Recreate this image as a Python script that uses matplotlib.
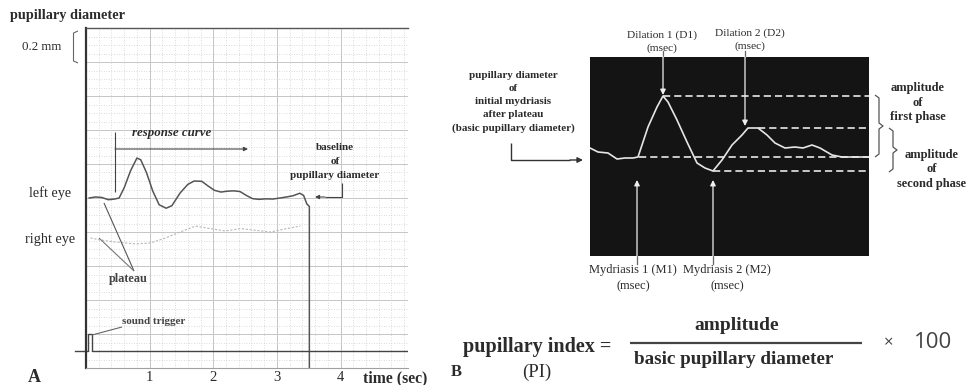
import matplotlib
matplotlib.use("Agg")
import matplotlib.pyplot as plt
from matplotlib.ticker import MultipleLocator
import numpy as np

plt.rcParams.update({"font.family": ["Liberation Serif", "DejaVu Serif"],
                     "savefig.facecolor": "white"})

W, H = 973, 385
INK = "#2b2b2b"

# ---- panel A data: time (s), pupil diameter (mm) ----
LEFT_T = [0.05, 0.15, 0.25, 0.35, 0.45, 0.52, 0.60, 0.70, 0.80, 0.86, 0.95,
          1.05, 1.15, 1.26, 1.35, 1.48, 1.60, 1.70, 1.82, 1.92, 2.02, 2.12,
          2.22, 2.32, 2.42, 2.52, 2.62, 2.72, 2.82, 2.94, 3.05, 3.15, 3.25,
          3.36, 3.42, 3.47, 3.51, 3.51]
LEFT_MM = [1.000, 1.006, 1.003, 0.990, 0.994, 1.000, 1.060, 1.160, 1.235,
           1.225, 1.150, 1.040, 0.960, 0.940, 0.955, 1.030, 1.080, 1.100,
           1.098, 1.070, 1.045, 1.035, 1.040, 1.042, 1.038, 1.015, 0.996,
           0.992, 0.995, 0.994, 1.000, 1.006, 1.013, 1.028, 1.015, 0.965,
           0.950, 0.0]
RIGHT_T = [0.07, 0.23, 0.46, 0.78, 1.01, 1.25, 1.48, 1.72, 1.95, 2.19, 2.43,
           2.66, 2.90, 3.13, 3.37]
RIGHT_MM = [0.765, 0.753, 0.741, 0.730, 0.735, 0.765, 0.800, 0.835, 0.820,
            0.806, 0.820, 0.810, 0.800, 0.818, 0.835]
TRIG_T = [0.0, 0.03, 0.03, 0.09, 0.09, 5.06]
TRIG_MM = [0.10, 0.10, 0.20, 0.20, 0.10, 0.10]
TIME_TICKS = [1, 2, 3, 4]

# ---- panel B data: time (ms), diameter (a.u.) ----
B_T = [0, 80, 180, 270, 350, 430, 480, 580, 670, 730, 780, 870, 970, 1070,
       1150, 1230, 1320, 1420, 1520, 1580, 1680, 1770, 1850, 1950, 2050,
       2130, 2220, 2300, 2420, 2520, 2620, 2780]
B_Y = [108, 104, 103, 97, 98, 98, 99, 129, 149, 160, 154, 136, 114, 93, 88,
       85, 96, 111, 121, 128, 128, 121, 113, 108, 109, 108, 111, 108, 101,
       99, 99, 99]
M1_T, D1_T, M2_T, D2_T = 470, 730, 1230, 1550
D2_END = 1680


def rect(x0, y0, x1, y1):
    return [x0 / W, 1 - y1 / H, (x1 - x0) / W, (y1 - y0) / H]


fig = plt.figure(figsize=(W / 100, H / 100), dpi=100)

# ================= panel A =================
axA = fig.add_axes(rect(86, 28, 408, 368))
axA.set_xlim(0, 5.06)
axA.set_ylim(0, 2.0)
axA.xaxis.set_major_locator(plt.FixedLocator(TIME_TICKS))
axA.xaxis.set_minor_locator(MultipleLocator(0.2))
axA.yaxis.set_major_locator(MultipleLocator(0.2))
axA.yaxis.set_minor_locator(MultipleLocator(0.05))
axA.grid(which="major", color="#c6c6c6", lw=0.7)
axA.grid(which="minor", color="#cfcfcf", lw=0.6, ls=(0, (1, 2)))
axA.set_axisbelow(True)
axA.set_yticklabels([])
axA.set_xticklabels([str(t) for t in TIME_TICKS])
axA.tick_params(which="both", length=0)
axA.tick_params(axis="x", labelsize=10.5, pad=2, labelcolor=INK)
axA.spines["right"].set_visible(False)
axA.spines["left"].set(color="#333333", lw=1.6)
axA.spines["top"].set(color="#555555", lw=1.0)
axA.spines["bottom"].set(color="#a0a0a0", lw=0.8)

axA.plot(RIGHT_T, RIGHT_MM, color="#b8b8b8", lw=0.8, ls=(0, (2, 1.5)))
axA.plot(LEFT_T, LEFT_MM, color="#555555", lw=1.1)
axA.plot(TRIG_T, TRIG_MM, color="#444444", lw=1.0)
axA.plot([-0.17, 0], [TRIG_MM[0], TRIG_MM[0]], color="#444444", lw=1.0,
         clip_on=False)

# ================= panel B =================
axB = fig.add_axes(rect(590, 57, 869, 256))
axB.set_facecolor("#141414")
axB.set_xlim(0, 2790)
axB.set_ylim(0, 199)
axB.set_xticks([])
axB.set_yticks([])
for s in axB.spines.values():
    s.set_visible(False)

b_t = np.array(B_T)
b_y = np.array(B_Y)
d1 = b_y.max()
m2 = b_y.min()
base = b_y[-1]
d2 = b_y[b_t > M2_T].max()
dash = dict(color="#d8d8d8", lw=1.3, ls=(0, (4, 2.2)))
axB.plot([b_t[b_y.argmax()], 2790], [d1, d1], **dash)
axB.plot([D2_END, 2790], [d2, d2], **dash)
axB.plot([M1_T + 20, 2790], [base, base], **dash)
axB.plot([b_t[b_y.argmin()], 2790], [m2, m2], **dash)
axB.plot(b_t, b_y, color="#e6e6e6", lw=1.2)

arr = dict(arrowstyle="-|>", color="#f0f0f0", lw=0.9, mutation_scale=8,
           shrinkA=0, shrinkB=0)
for t, y0, y1 in [(D1_T, 199, d1 + 1), (D2_T, 199, d2 + 2),
                  (M1_T, 0, 76), (M2_T, 0, 76)]:
    axB.annotate("", xy=(t, y1), xytext=(t, y0), arrowprops=arr)
for t, ya, yb in [(D1_T, 199, 205), (D2_T, 199, 205),
                  (M1_T, 0, -8), (M2_T, 0, -8)]:
    axB.plot([t, t], [ya, yb], color="#666666", lw=0.9, clip_on=False)

# ================= annotations (pixel overlay) =================
ov = fig.add_axes([0, 0, 1, 1])
ov.set_xlim(0, W)
ov.set_ylim(H, 0)
ov.axis("off")


def txt(x, y, s, size=7, weight="normal", ha="center", color=INK, **kw):
    ov.text(x, y, s, fontsize=size, fontweight=weight, ha=ha, va="center",
            color=color, **kw)


def stack(x, y0, step, lines, **kw):
    for i, s in enumerate(lines):
        txt(x, y0 + i * step, s, **kw)


def line(xs, ys, color="#444444", lw=0.8):
    ov.plot(xs, ys, color=color, lw=lw, solid_capstyle="butt")


def arrow(x0, y0, x1, y1, color="#444444", lw=0.8, ms=7):
    ov.annotate("", xy=(x1, y1), xytext=(x0, y0),
                arrowprops=dict(arrowstyle="-|>", color=color, lw=lw,
                                mutation_scale=ms, shrinkA=0, shrinkB=0))


# panel A labels
txt(10, 15, "pupillary diameter", size=10.3, weight="bold", ha="left")
txt(61, 47, "0.2 mm", size=9.3, ha="right")
line([78, 73.5, 73.5, 78], [31, 33, 61, 63], color="#666666", lw=0.8)
txt(50, 193, "left eye", size=10.3)
txt(50, 239, "right eye", size=10.3)
txt(34, 378, "A", size=13, weight="bold")
txt(395, 378, "time (sec)", size=11.3, weight="bold")

txt(172, 133, "response curve", size=9.3, weight="bold", style="italic")
line([115, 115], [132, 192])
arrow(115, 149, 248, 149, ms=6)
stack(335, 148, 13.5, ["baseline", "of", "pupillary diameter"], size=8,
      weight="bold")
line([342, 342, 325], [183, 197, 197])
arrow(325, 197, 315, 197, ms=6)

line([134, 104], [271, 203], color="#555555")
line([134, 99], [271, 238], color="#777777")
txt(128, 279, "plateau", size=8.8, weight="bold", color="#444444")
txt(154, 322, "sound trigger", size=7.9, weight="bold", color="#444444")
line([122, 92], [327, 335], color="#666666")

# panel B labels
stack(513, 75, 13.3, ["pupillary diameter", "of", "initial mydriasis",
                      "after plateau", "(basic pupillary diameter)"],
      size=7.9, weight="bold")
line([511, 511, 570], [143, 160, 160], color="#333333", lw=1.0)
arrow(570, 160, 583, 160, color="#333333", lw=1.0, ms=8)

stack(662, 35, 13, ["Dilation 1 (D1)", "(msec)"], size=8.2)
stack(750, 33, 13, ["Dilation 2 (D2)", "(msec)"], size=8.2)
stack(633, 270, 16, ["Mydriasis 1 (M1)", "(msec)"], size=9)
stack(727, 270, 16, ["Mydriasis 2 (M2)", "(msec)"], size=9)

stack(918, 88, 14.5, ["amplitude", "of", "first phase"], size=9,
      weight="bold")
stack(932, 155, 14.5, ["amplitude", "of", "second phase"], size=9,
      weight="bold")


def brace(x, y0, y1, w=4):
    ym = (y0 + y1) / 2
    line([x - w, x, x, x + w, x, x, x - w],
         [y0, y0 + 3, ym - 3, ym, ym + 3, y1 - 3, y1], color="#555555",
         lw=0.9)


brace(879, 95, 157)
brace(893, 128, 172)

# formula
txt(463, 347, "pupillary index =", size=14.5, weight="bold", ha="left")
txt(537, 372, "(PI)", size=13.5)
txt(737, 325, "amplitude", size=14, weight="bold")
line([630, 862], [343, 343], color="#444444", lw=1.6)
txt(734, 360, "basic pupillary diameter", size=13.8, weight="bold")
txt(889, 343, "\u00d7", size=12, color="#444444", family="Open Sans")
txt(933, 343, "100", size=16, color="#444444", family="Open Sans")
txt(456, 372, "B", size=12, weight="bold")

fig.savefig("out.png", dpi=100)
